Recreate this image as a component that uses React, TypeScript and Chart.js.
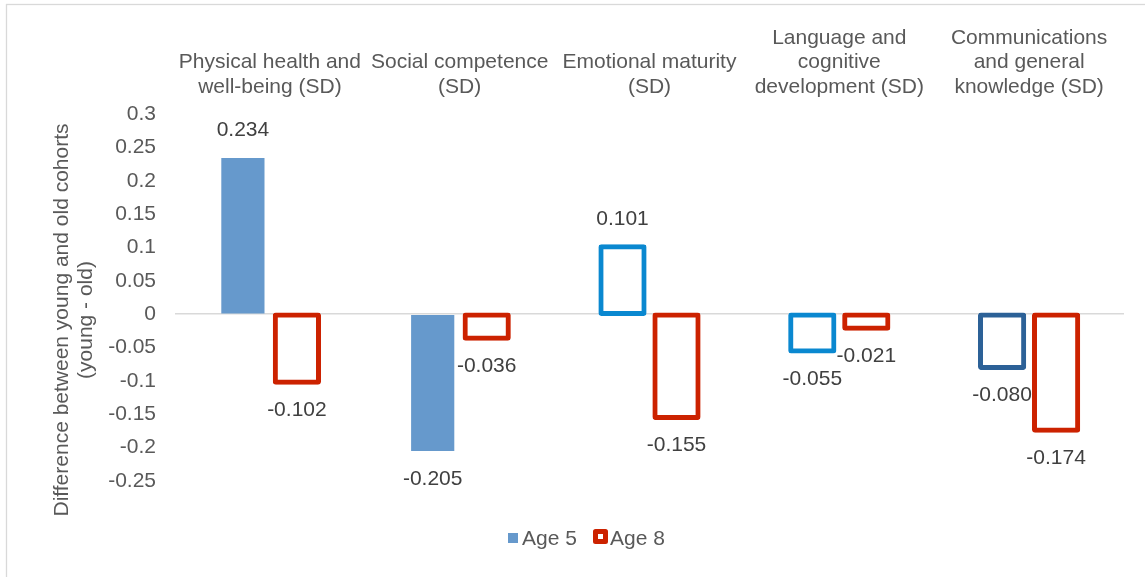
import React, { useEffect, useRef } from 'react';
import { Chart, registerables } from 'chart.js';

Chart.register(...registerables);

// ---- data ----
const categories: string[][] = [
  ['Physical health and', 'well-being (SD)'],
  ['Social competence', '(SD)'],
  ['Emotional maturity', '(SD)'],
  ['Language and', 'cognitive', 'development (SD)'],
  ['Communications', 'and general', 'knowledge (SD)'],
];
const seriesNames = ['Age 5', 'Age 8'];
const age5Values = [0.234, -0.205, 0.101, -0.055, -0.08];
const age8Values = [-0.102, -0.036, -0.155, -0.021, -0.174];
const yMin = -0.25;
const yMax = 0.3;
const yStep = 0.05;
const yTitleLines = ['Difference between young and old cohorts', '(young - old)'];

// ---- styles ----
const FONT = "'Liberation Sans', Arial, sans-serif";
const FS = 21;
const AXIS_COLOR = '#595959';
const LABEL_COLOR = '#404040';
const age5Colors = ['#6699CC', '#6699CC', '#0A88D0', '#0A88D0', '#2C6197'];
const age5Filled = [true, true, false, false, false];
const age8Color = '#CC2200';

const framePlugin = {
  id: 'frame',
  beforeDraw(chart: any) {
    const ctx = chart.ctx;
    ctx.save();
    ctx.fillStyle = '#FFFFFF';
    ctx.fillRect(0, 0, chart.width, chart.height);
    ctx.strokeStyle = '#D9D9D9';
    ctx.lineWidth = 1.3;
    ctx.strokeRect(6.5, 4.5, chart.width + 50, chart.height + 50);
    ctx.restore();
  },
};

const extrasPlugin = {
  id: 'extras',
  afterDatasetsDraw(chart: any) {
    const ctx = chart.ctx;
    const yScale = chart.scales.y;
    ctx.save();
    ctx.font = `${FS}px ${FONT}`;
    ctx.fillStyle = LABEL_COLOR;
    ctx.textAlign = 'center';
    ctx.textBaseline = 'middle';
    chart.data.datasets.forEach((ds: any, di: number) => {
      const meta = chart.getDatasetMeta(di);
      meta.data.forEach((el: any, i: number) => {
        const v = ds.data[i] as number;
        const py = yScale.getPixelForValue(v);
        const y = v >= 0 ? py - 28 : py + 28;
        ctx.fillText(v.toFixed(3), el.x, y);
      });
    });
    ctx.restore();
  },
  afterDraw(chart: any) {
    const ctx = chart.ctx;
    ctx.save();
    // y axis title
    ctx.font = `${FS}px ${FONT}`;
    ctx.fillStyle = AXIS_COLOR;
    ctx.textAlign = 'center';
    ctx.textBaseline = 'middle';
    const xs = [62, 86];
    yTitleLines.forEach((t, i) => {
      ctx.save();
      ctx.translate(xs[i], 320);
      ctx.rotate(-Math.PI / 2);
      ctx.fillText(t, 0, 0);
      ctx.restore();
    });
    // legend
    ctx.fillStyle = age5Colors[0];
    ctx.fillRect(508, 533, 10, 10);
    ctx.strokeStyle = age8Color;
    ctx.lineWidth = 5;
    ctx.lineJoin = 'round';
    ctx.strokeRect(595.5, 531.5, 10, 10);
    ctx.fillStyle = '#FFFFFF';
    ctx.fillRect(598, 534, 5, 5);
    ctx.fillStyle = AXIS_COLOR;
    ctx.textAlign = 'left';
    ctx.fillText(seriesNames[0], 522, 539);
    ctx.fillText(seriesNames[1], 610, 539);
    ctx.restore();
  },
};

export default function App() {
  const ref = useRef<HTMLCanvasElement | null>(null);

  useEffect(() => {
    if (!ref.current) return;
    const chart = new Chart(ref.current, {
      type: 'bar',
      data: {
        labels: categories,
        datasets: [
          {
            label: seriesNames[0],
            data: age5Values,
            backgroundColor: age5Filled.map((f, i) => (f ? age5Colors[i] : '#FFFFFF')),
            borderColor: age5Filled.map((f, i) => (f ? 'rgba(0,0,0,0)' : age5Colors[i])),
            borderWidth: age5Filled.map((f) => (f ? 0 : 5)) as any,
            borderRadius: age5Filled.map((f) => (f ? 0 : 3)) as any,
            inflateAmount: age5Filled.map((f) => (f ? 0 : 2.5)) as any,
            borderSkipped: false,
          },
          {
            label: seriesNames[1],
            data: age8Values,
            backgroundColor: '#FFFFFF',
            borderColor: age8Color,
            borderWidth: 5,
            borderRadius: 3,
            inflateAmount: 2.5,
            borderSkipped: false,
          },
        ],
      },
      options: {
        responsive: false,
        animation: false,
        devicePixelRatio: 1,
        layout: { padding: { left: 0, top: 0, right: 21, bottom: 96 } },
        datasets: {
          bar: { categoryPercentage: 0.569, barPercentage: 0.8 },
        },
        plugins: {
          legend: { display: false },
          tooltip: { enabled: false },
          title: { display: false },
        },
        scales: {
          x: {
            position: 'top',
            grid: { display: false },
            border: { display: false },
            ticks: {
              autoSkip: false,
              maxRotation: 0,
              minRotation: 0,
              padding: 7,
              color: AXIS_COLOR,
              font: { family: FONT, size: FS, lineHeight: 24.5 / FS },
            },
            afterFit(s: any) {
              s.height = 114;
            },
          },
          y: {
            min: yMin,
            max: yMax,
            grid: {
              drawTicks: false,
              color: (c: any) =>
                Math.abs(c.tick.value) < 1e-9 ? '#D9D9D9' : 'rgba(0,0,0,0)',
              lineWidth: 1.5,
            },
            border: { display: false },
            ticks: {
              stepSize: yStep,
              padding: 19,
              color: AXIS_COLOR,
              font: { family: FONT, size: FS },
              callback: (v: any) => String(Number(Number(v).toFixed(2))),
            },
            afterFit(s: any) {
              s.width = 175;
            },
          },
        },
      },
      plugins: [framePlugin, extrasPlugin],
    });
    return () => chart.destroy();
  }, []);

  return (
    <div style={{ position: 'absolute', left: 0, top: 0, width: 1145, height: 577 }}>
      <canvas ref={ref} width={1145} height={577} style={{ display: 'block' }} />
    </div>
  );
}
